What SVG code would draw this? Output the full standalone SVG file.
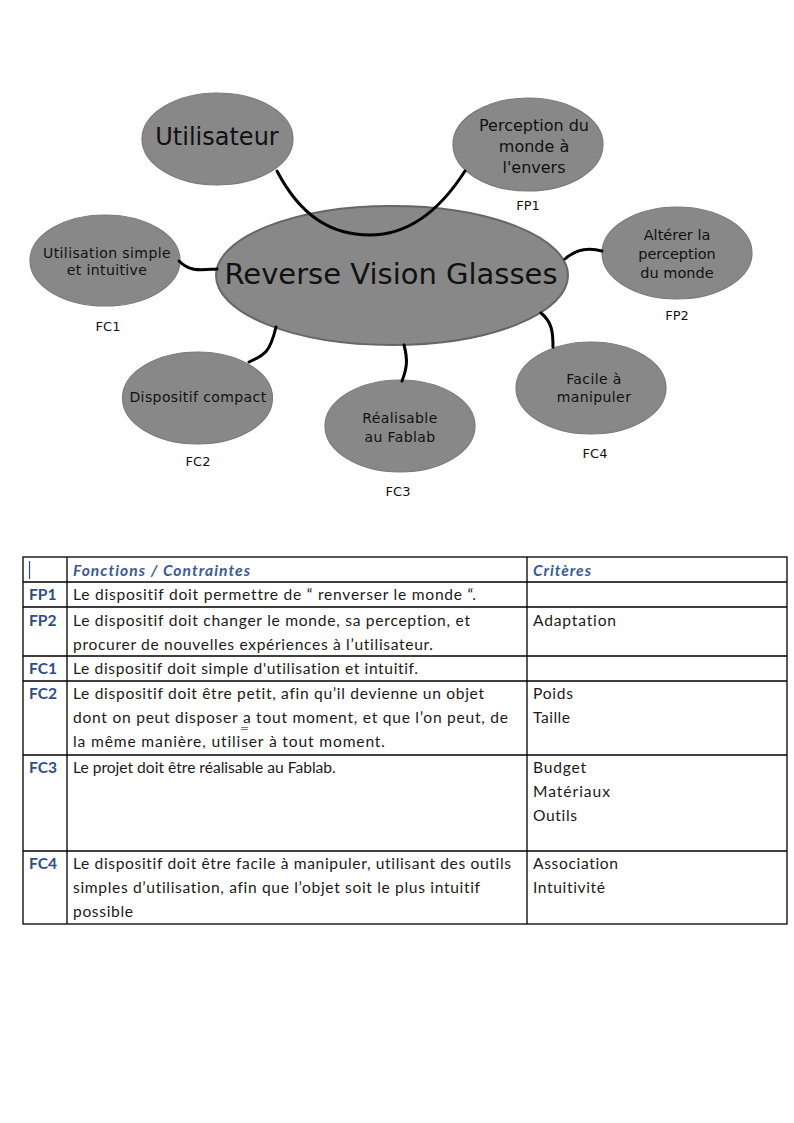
<svg xmlns="http://www.w3.org/2000/svg" width="794" height="1123" viewBox="0 0 794 1123">
<style>
.bub{fill:#888888;stroke:#7a7a7a;stroke-width:1.2}
.main{fill:#888888;stroke:#666666;stroke-width:2}
.conn{fill:none;stroke:#000;stroke-width:3;stroke-linecap:round}
.t{font-family:"DejaVu Sans",sans-serif;fill:#111;text-anchor:middle}
.lbl{font-family:"DejaVu Sans",sans-serif;font-size:13px;fill:#111;text-anchor:middle}
.grid{fill:none;stroke:#000;stroke-width:1.3}
.cell,.id,.hd{font-family:Lato,"Liberation Sans",sans-serif;font-size:15.6px;font-variant-ligatures:none;font-feature-settings:"liga" 0,"dlig" 0}
.cell{fill:#1a1a1a}
.id{font-weight:bold;fill:#2f4d8a}
.hd{font-style:italic;font-weight:bold;fill:#3a5a9c}
</style>
<rect width="794" height="1123" fill="#fff"/>
<g id="utilisateur"><ellipse class="bub" cx="217.5" cy="139" rx="75.5" ry="46"/><text class="t" x="217" y="145" font-size="24">Utilisateur</text></g>
<g id="fp1"><ellipse class="bub" cx="528" cy="144.5" rx="75" ry="46.5"/><text class="t" x="534" y="131" font-size="16">Perception du</text><text class="t" x="534" y="152" font-size="16">monde à</text><text class="t" x="534" y="173" font-size="16">l'envers</text><text class="lbl" x="528" y="210">FP1</text></g>
<g id="fp2"><ellipse class="bub" cx="677" cy="253" rx="75" ry="46"/><text class="t" x="677" y="240" font-size="14.5">Altérer la</text><text class="t" x="677" y="259" font-size="14.5">perception</text><text class="t" x="677" y="278" font-size="14.5">du monde</text><text class="lbl" x="677" y="320">FP2</text></g>
<g id="fc1"><ellipse class="bub" cx="105" cy="260.5" rx="75" ry="45.5"/><text class="t" x="107" y="258" font-size="14" letter-spacing="0.4">Utilisation simple</text><text class="t" x="107" y="275" font-size="14" letter-spacing="0.4">et intuitive</text><text class="lbl" x="108" y="331">FC1</text></g>
<g id="main"><ellipse class="main" cx="392" cy="275.5" rx="176" ry="69.5"/><text class="t" x="391" y="284" font-size="29">Reverse Vision Glasses</text></g>
<g id="fc2"><ellipse class="bub" cx="197.5" cy="398" rx="75" ry="46"/><text class="t" x="198" y="402" font-size="14" letter-spacing="0.4">Dispositif compact</text><text class="lbl" x="198" y="466">FC2</text></g>
<g id="fc3"><ellipse class="bub" cx="400" cy="426" rx="75" ry="46"/><text class="t" x="400" y="423" font-size="14" letter-spacing="0.4">Réalisable</text><text class="t" x="400" y="442" font-size="14" letter-spacing="0.4">au Fablab</text><text class="lbl" x="398" y="496">FC3</text></g>
<g id="fc4"><ellipse class="bub" cx="591" cy="388" rx="75" ry="46"/><text class="t" x="594" y="384" font-size="14" letter-spacing="0.4">Facile à</text><text class="t" x="594" y="402" font-size="14" letter-spacing="0.4">manipuler</text><text class="lbl" x="595" y="458">FC4</text></g>
<g id="connectors">
<path class="conn" d="M277,171 C300,215 330,235 370,235 C410,235 440,210 465,171"/>
<path class="conn" d="M179,261 C190,272 200,270 217,269"/>
<path class="conn" d="M565,259 C575,250 587,247 602,251"/>
<path class="conn" d="M541,313 C552,322 553,332 553,347"/>
<path class="conn" d="M404,345 C408,360 407,368 402,381"/>
<path class="conn" d="M276,327 C270,352 265,355 249,362"/>
</g>
<g id="table">
<rect class="grid" x="23" y="557" width="764" height="367"/>
<path class="grid" d="M67,557V924 M527,557V924 M23,582H787 M23,607H787 M23,656H787 M23,681H787 M23,755H787 M23,851H787"/>
<line x1="29.5" y1="561" x2="29.5" y2="579" stroke="#2f4d8a" stroke-width="1.2"/>
<text class="hd" x="73" y="576" textLength="177">Fonctions / Contraintes</text>
<text class="hd" x="533" y="576" textLength="58">Critères</text>
<text class="id" x="29" y="600">FP1</text>
<text class="cell" x="73" y="600" textLength="403">Le dispositif doit permettre de “ renverser le monde “.</text>
<text class="id" x="29" y="626">FP2</text>
<text class="cell" x="73" y="626" textLength="397">Le dispositif doit changer le monde, sa perception, et</text>
<text class="cell" x="73" y="650" textLength="360">procurer de nouvelles expériences à l’utilisateur.</text>
<text class="cell" x="533" y="626" textLength="83">Adaptation</text>
<text class="id" x="29" y="674">FC1</text>
<text class="cell" x="73" y="674" textLength="345">Le dispositif doit simple d'utilisation et intuitif.</text>
<text class="id" x="29" y="699">FC2</text>
<text class="cell" x="73" y="699" textLength="411">Le dispositif doit être petit, afin qu’il devienne un objet</text>
<text class="cell" x="73" y="723" textLength="435">dont on peut disposer a tout moment, et que l’on peut, de</text>
<text class="cell" x="73" y="747" textLength="312">la même manière, utiliser à tout moment.</text>
<path d="M241,727.5H248 M241,729.5H248" stroke="#3a5a9c" stroke-width="0.8"/>
<text class="cell" x="533" y="699" textLength="40">Poids</text>
<text class="cell" x="533" y="723" textLength="37">Taille</text>
<text class="id" x="29" y="773">FC3</text>
<text class="cell" x="73" y="773">Le projet doit être réalisable au Fablab.</text>
<text class="cell" x="533" y="773" textLength="53">Budget</text>
<text class="cell" x="533" y="797" textLength="77">Matériaux</text>
<text class="cell" x="533" y="821" textLength="44">Outils</text>
<text class="id" x="29" y="869">FC4</text>
<text class="cell" x="73" y="869" textLength="438">Le dispositif doit être facile à manipuler, utilisant des outils</text>
<text class="cell" x="73" y="893" textLength="407">simples d’utilisation, afin que l’objet soit le plus intuitif</text>
<text class="cell" x="73" y="917" textLength="60">possible</text>
<text class="cell" x="533" y="869" textLength="85">Association</text>
<text class="cell" x="533" y="893" textLength="72">Intuitivité</text>
</g>
</svg>
